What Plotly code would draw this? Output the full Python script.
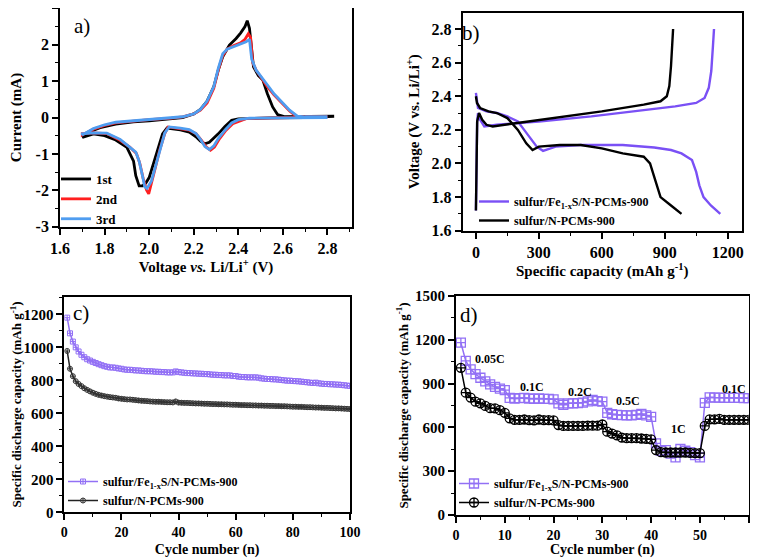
import plotly.graph_objects as go

W, H = 758, 558
OFF = 8  # default page body margin
FW, FH = W - 2 * OFF, H - OFF
FONT = "Liberation Serif"

# ---------------- Panel a: CV curves ----------------
cv1_v = [2.83, 2.70, 2.55, 2.45, 2.40, 2.37, 2.34, 2.31, 2.29, 2.27, 2.25, 2.23, 2.21, 2.18, 2.14, 2.10, 2.08,
         2.06, 2.04, 2.02, 2.00, 1.985, 1.97, 1.955, 1.94, 1.93, 1.90, 1.85, 1.80, 1.75, 1.70,
         1.70, 1.73, 1.78, 1.85, 1.93, 2.00, 2.08, 2.15, 2.20, 2.23, 2.26, 2.29, 2.31, 2.33, 2.36, 2.39,
         2.41, 2.43, 2.44, 2.45, 2.468, 2.49, 2.51, 2.53, 2.554, 2.576, 2.61, 2.65, 2.75, 2.82, 2.83]
cv1_i = [0.03, 0.0, -0.01, -0.02, -0.04, -0.08, -0.25, -0.45, -0.58, -0.68, -0.72, -0.65, -0.53, -0.40, -0.34, -0.30, -0.29,
         -0.45, -0.85, -1.30, -1.65, -1.80, -1.88, -1.88, -1.60, -1.20, -0.82, -0.62, -0.50, -0.45, -0.55,
         -0.55, -0.40, -0.28, -0.18, -0.12, -0.09, -0.05, 0.0, 0.10, 0.22, 0.45, 0.85, 1.30, 1.67, 1.99, 2.17,
         2.32, 2.50, 2.66, 2.45, 1.39, 1.15, 1.03, 0.66, 0.29, 0.08, 0.02, 0.02, 0.02, 0.02, 0.04]

cv2_v = [2.80, 2.60, 2.45, 2.435, 2.375, 2.345, 2.316, 2.293, 2.275, 2.256, 2.234, 2.21, 2.18, 2.137, 2.085, 2.07,
         2.047, 2.025, 2.005, 1.998, 1.988, 1.973, 1.958, 1.943, 1.913, 1.868, 1.81, 1.75, 1.70,
         1.70, 1.75, 1.80, 1.85, 1.93, 2.00, 2.10, 2.15, 2.20, 2.23, 2.26, 2.29, 2.31, 2.33, 2.35, 2.38, 2.41,
         2.43, 2.445, 2.455, 2.465, 2.48, 2.50, 2.53, 2.56, 2.60, 2.63, 2.66, 2.70, 2.80]
cv2_i = [0.02, 0.0, -0.02, -0.03, -0.17, -0.35, -0.58, -0.81, -0.90, -0.81, -0.62, -0.44, -0.35, -0.30, -0.26, -0.44,
         -0.90, -1.45, -1.90, -2.10, -1.99, -1.67, -1.26, -0.99, -0.81, -0.62, -0.44, -0.42, -0.44,
         -0.48, -0.32, -0.22, -0.15, -0.10, -0.06, -0.02, 0.02, 0.10, 0.20, 0.40, 0.80, 1.30, 1.70, 1.88, 1.98, 2.05,
         2.15, 2.30, 2.20, 1.50, 1.30, 1.12, 0.85, 0.62, 0.38, 0.18, 0.03, 0.02, 0.02]

cv3_v = [2.80, 2.60, 2.45, 2.40, 2.37, 2.34, 2.31, 2.29, 2.27, 2.25, 2.23, 2.21, 2.18, 2.14, 2.09, 2.07, 2.05,
         2.03, 2.01, 1.99, 1.98, 1.97, 1.955, 1.94, 1.91, 1.87, 1.81, 1.75, 1.70,
         1.70, 1.75, 1.80, 1.85, 1.93, 2.00, 2.10, 2.15, 2.20, 2.23, 2.26, 2.29, 2.31, 2.33, 2.35, 2.38, 2.41,
         2.435, 2.45, 2.46, 2.48, 2.50, 2.53, 2.56, 2.60, 2.63, 2.665, 2.70, 2.80]
cv3_i = [0.0, 0.0, -0.02, -0.06, -0.15, -0.35, -0.58, -0.78, -0.88, -0.80, -0.60, -0.44, -0.33, -0.29, -0.26, -0.42, -0.85,
         -1.35, -1.75, -1.95, -1.90, -1.60, -1.20, -0.95, -0.80, -0.60, -0.43, -0.42, -0.45,
         -0.48, -0.30, -0.20, -0.13, -0.09, -0.05, -0.01, 0.02, 0.10, 0.22, 0.45, 0.85, 1.35, 1.75, 1.88, 1.95, 2.00,
         2.08, 2.15, 1.60, 1.30, 1.15, 0.90, 0.65, 0.38, 0.20, 0.04, 0.02, 0.02]

a_xticks = [1.6, 1.8, 2.0, 2.2, 2.4, 2.6, 2.8]
a_xlabels = ["1.6", "1.8", "2.0", "2.2", "2.4", "2.6", "2.8"]
a_yticks = [-3, -2, -1, 0, 1, 2, 3]
a_ylabels = ["-3", "-2", "-1", "0", "1", "2", "3"]

# ---------------- Panel b: charge / discharge ----------------
fe_dis_cap = [0, 10, 50, 100, 150, 200, 230, 260, 290, 320, 380, 500, 700, 850, 930, 980, 1030, 1050, 1065, 1085, 1120, 1165]
fe_dis_v = [2.42, 2.33, 2.31, 2.30, 2.28, 2.25, 2.20, 2.15, 2.10, 2.075, 2.10, 2.11, 2.11, 2.095, 2.08, 2.06, 2.02, 1.95, 1.87, 1.80, 1.75, 1.70]
fe_chg_cap = [0, 3, 6, 10, 20, 40, 100, 300, 550, 750, 950, 1050, 1090, 1110, 1122, 1130, 1135]
fe_chg_v = [1.72, 2.10, 2.25, 2.30, 2.26, 2.22, 2.23, 2.25, 2.28, 2.31, 2.34, 2.36, 2.39, 2.45, 2.55, 2.70, 2.80]

n_dis_cap = [0, 5, 20, 60, 100, 150, 200, 240, 270, 300, 400, 500, 600, 700, 800, 830, 850, 865, 880, 930, 980]
n_dis_v = [2.40, 2.36, 2.33, 2.31, 2.30, 2.27, 2.20, 2.12, 2.08, 2.10, 2.11, 2.11, 2.09, 2.06, 2.04, 2.00, 1.92, 1.86, 1.80, 1.75, 1.70]
n_chg_cap = [0, 3, 6, 15, 30, 50, 80, 250, 430, 600, 800, 880, 910, 922, 930, 935, 940]
n_chg_v = [1.72, 2.10, 2.25, 2.30, 2.26, 2.23, 2.22, 2.25, 2.28, 2.31, 2.35, 2.37, 2.40, 2.46, 2.58, 2.70, 2.80]

b_xticks = [0, 300, 600, 900, 1200]
b_xlabels = ["0", "300", "600", "900", "1200"]
b_yticks = [1.6, 1.8, 2.0, 2.2, 2.4, 2.6, 2.8]
b_ylabels = ["1.6", "1.8", "2.0", "2.2", "2.4", "2.6", "2.8"]

# ---------------- Panel c: cycling ----------------
cycles_c = list(range(1, 101))
fe_cyc = [1180, 1085, 1035, 1000, 975, 955, 940, 928, 920, 912,
          905, 898, 892, 886, 882, 878, 878, 876, 872, 870,
          866, 864, 864, 862, 860, 860, 858, 856, 855, 855,
          854, 852, 852, 850, 850, 848, 848, 848, 854, 850,
          848, 846, 844, 844, 842, 842, 840, 840, 838, 838,
          836, 834, 834, 832, 832, 830, 830, 830, 826, 826,
          822, 820, 820, 818, 818, 818, 818, 816, 812, 810,
          808, 808, 806, 806, 804, 802, 800, 798, 798, 796,
          795, 794, 792, 790, 788, 786, 784, 786, 782, 780,
          778, 778, 776, 776, 774, 774, 772, 770, 768, 766]
n_cyc = [978, 870, 825, 795, 778, 765, 752, 742, 733, 725,
         718, 712, 708, 704, 701, 698, 696, 694, 690, 688,
         686, 684, 684, 682, 680, 678, 676, 675, 674, 672,
         671, 670, 670, 669, 668, 667, 667, 666, 672, 665,
         664, 663, 663, 662, 661, 660, 660, 659, 658, 658,
         657, 656, 656, 655, 655, 654, 654, 653, 652, 652,
         651, 650, 650, 649, 649, 648, 648, 647, 647, 646,
         646, 645, 645, 644, 644, 643, 643, 642, 641, 640,
         640, 639, 639, 638, 637, 637, 636, 635, 635, 634,
         633, 633, 632, 631, 630, 630, 629, 628, 627, 626]
c_xticks = [0, 20, 40, 60, 80, 100]
c_xlabels = ["0", "20", "40", "60", "80", "100"]
c_yticks = [0, 200, 400, 600, 800, 1000, 1200]
c_ylabels = ["0", "200", "400", "600", "800", "1000", "1200"]

# ---------------- Panel d: rate ----------------
cycles_d = list(range(1, 61))
fe_rate = [1180, 1055, 998, 965, 940, 915, 895, 878, 865, 855,
           802, 798, 800, 802, 798, 796, 798, 796, 796, 792,
           765, 755, 765, 765, 766, 770, 778, 788, 780, 776,
           700, 690, 686, 684, 682, 682, 686, 692, 682, 672,
           490, 440, 445, 420, 395, 452, 440, 430, 410, 395,
           768, 806, 804, 804, 802, 802, 802, 802, 800, 800]
n_rate = [1008, 838, 804, 776, 765, 747, 732, 730, 718, 700,
          662, 652, 652, 654, 650, 648, 654, 650, 650, 648,
          616, 610, 610, 610, 610, 610, 612, 612, 612, 620,
          571, 558, 546, 530, 526, 526, 526, 524, 522, 518,
          445, 430, 428, 428, 428, 428, 428, 426, 424, 424,
          610, 655, 655, 658, 652, 652, 652, 652, 652, 652]
d_xticks = [0, 10, 20, 30, 40, 50, 60]
d_xlabels = ["0", "10", "20", "30", "40", "50", "60"]
d_yticks = [0, 300, 600, 900, 1200, 1500]
d_ylabels = ["0", "300", "600", "900", "1200", "1500"]
rate_labels = ["0.05C", "0.1C", "0.2C", "0.5C", "1C", "0.1C"]
rate_label_x = [7.0, 15.5, 25.4, 35.3, 45.6, 56.9]
rate_label_y = [1066, 879, 840, 780, 587, 861]

PURPLE = "#7a50f5"
PURPLE_L = "#9270f5"
RED = "#ff1f1f"
BLUE = "#4f9df0"

fig = go.Figure()
# panel a
fig.add_trace(go.Scatter(x=cv1_v, y=cv1_i, mode="lines", name="1st", line=dict(color="black", width=2.8),
                         xaxis="x", yaxis="y", legend="legend"))
fig.add_trace(go.Scatter(x=cv2_v, y=cv2_i, mode="lines", name="2nd", line=dict(color=RED, width=2.8),
                         xaxis="x", yaxis="y", legend="legend"))
fig.add_trace(go.Scatter(x=cv3_v, y=cv3_i, mode="lines", name="3rd", line=dict(color=BLUE, width=2.8),
                         xaxis="x", yaxis="y", legend="legend"))
# panel b
fig.add_trace(go.Scatter(x=fe_dis_cap, y=fe_dis_v, mode="lines", name="sulfur/Fe<sub>1-x</sub>S/N-PCMs-900",
                         line=dict(color=PURPLE, width=2.4), xaxis="x2", yaxis="y2", legend="legend2"))
fig.add_trace(go.Scatter(x=fe_chg_cap, y=fe_chg_v, mode="lines", showlegend=False,
                         line=dict(color=PURPLE, width=2.4), xaxis="x2", yaxis="y2", legend="legend2"))
fig.add_trace(go.Scatter(x=n_dis_cap, y=n_dis_v, mode="lines", name="sulfur/N-PCMs-900",
                         line=dict(color="black", width=2.4), xaxis="x2", yaxis="y2", legend="legend2"))
fig.add_trace(go.Scatter(x=n_chg_cap, y=n_chg_v, mode="lines", showlegend=False,
                         line=dict(color="black", width=2.4), xaxis="x2", yaxis="y2", legend="legend2"))
# panel c
fig.add_trace(go.Scatter(x=cycles_c, y=fe_cyc, mode="lines+markers", name="sulfur/Fe<sub>1-x</sub>S/N-PCMs-900",
                         line=dict(color=PURPLE_L, width=1.5),
                         marker=dict(symbol="square-cross-open", size=5, color=PURPLE_L, line=dict(width=1)),
                         xaxis="x3", yaxis="y3", legend="legend3"))
fig.add_trace(go.Scatter(x=cycles_c, y=n_cyc, mode="lines+markers", name="sulfur/N-PCMs-900",
                         line=dict(color="#222222", width=1.5),
                         marker=dict(symbol="circle-cross-open", size=5, color="#333333", line=dict(width=1)),
                         xaxis="x3", yaxis="y3", legend="legend3"))
# panel d
fig.add_trace(go.Scatter(x=cycles_d, y=fe_rate, mode="lines+markers", name="sulfur/Fe<sub>1-x</sub>S/N-PCMs-900",
                         line=dict(color=PURPLE_L, width=1.5),
                         marker=dict(symbol="square-cross-open", size=9, color=PURPLE_L, line=dict(width=1.3)),
                         xaxis="x4", yaxis="y4", legend="legend4"))
fig.add_trace(go.Scatter(x=cycles_d, y=n_rate, mode="lines+markers", name="sulfur/N-PCMs-900",
                         line=dict(color="black", width=1.5),
                         marker=dict(symbol="circle-cross-open", size=9, color="black", line=dict(width=1.3)),
                         xaxis="x4", yaxis="y4", legend="legend4"))


def bold(labels):
    return ["<b>%s</b>" % s for s in labels]


def ax(domain, rng, tickvals, ticklabels, minor_dtick, title, anchor, tsize=15, fsize=15, standoff=6):
    return dict(domain=domain, range=rng, tickmode="array", tickvals=tickvals, ticktext=bold(ticklabels),
                anchor=anchor,
                showline=True, linecolor="black", linewidth=1.8, mirror=True,
                ticks="outside", ticklen=6, tickwidth=1.5, tickcolor="black",
                minor=dict(tickmode="linear", tick0=0, dtick=minor_dtick, ticks="outside", ticklen=3,
                           tickwidth=1.2, tickcolor="black"),
                showgrid=False, zeroline=False, automargin=False,
                tickfont=dict(family=FONT, size=tsize, color="black", weight=700),
                title=dict(text="<b>%s</b>" % title, font=dict(family=FONT, size=fsize, color="black"),
                           standoff=standoff))


def px(x0, x1):
    return [(x0 - OFF) / FW, (x1 - OFF) / FW]


def py(top, bottom):
    return [1 - (bottom - OFF) / FH, 1 - (top - OFF) / FH]


def lx(x):
    return (x - OFF) / FW


def ly(y):
    return 1 - (y - OFF) / FH


LEG = dict(xanchor="left", yanchor="top", bgcolor="rgba(0,0,0,0)", borderwidth=0)

layout = dict(
    width=FW, height=FH, margin=dict(l=0, r=0, t=0, b=0, autoexpand=False),
    paper_bgcolor="white", plot_bgcolor="white",
    font=dict(family=FONT, color="black"),
    xaxis=ax(px(60, 352), [1.6, 2.91], a_xticks, a_xlabels, 0.1, "Voltage <i>vs.</i> Li/Li<sup>+</sup> (V)", "y",
             tsize=16),
    yaxis=ax(py(8.3, 226.7), [-3, 3], a_yticks, a_ylabels, 0.5, "Current (mA)", "x", tsize=16, standoff=10),
    xaxis2=ax(px(462.7, 741.7), [-63, 1267], b_xticks, b_xlabels, 150, "Specific capacity (mAh g<sup>-1</sup>)",
              "y2", tsize=16),
    yaxis2=ax(py(12.7, 230.7), [1.6, 2.897], b_yticks, b_ylabels, 0.1, "Voltage (V vs. Li/Li<sup>+</sup>)", "x2",
              tsize=16, standoff=8),
    xaxis3=ax(px(64.3, 350), [0, 100], c_xticks, c_xlabels, 10, "Cycle number (n)", "y3", tsize=14, fsize=14,
              standoff=7),
    yaxis3=ax(py(296.7, 512.3), [0, 1307], c_yticks, c_ylabels, 100,
              "Specific discharge capacity (mAh g<sup>-1</sup>)", "x3", tsize=15, fsize=13, standoff=4),
    xaxis4=ax(px(456, 748.7), [0, 60], d_xticks, d_xlabels, 5, "Cycle number (n)", "y4", tsize=14, fsize=14,
              standoff=7),
    yaxis4=ax(py(296, 515), [0, 1500], d_yticks, d_ylabels, 150,
              "Specific discharge capacity (mAh g<sup>-1</sup>)", "x4", tsize=15, fsize=13, standoff=4),
    legend=dict(x=lx(56), y=ly(164), font=dict(family=FONT, size=13, color="black", weight="bold"), **LEG),
    legend2=dict(x=lx(474), y=ly(187), font=dict(family=FONT, size=12, color="black", weight="bold"), **LEG),
    legend3=dict(x=lx(63), y=ly(467), font=dict(family=FONT, size=12, color="black", weight="bold"), **LEG),
    legend4=dict(x=lx(454), y=ly(469), font=dict(family=FONT, size=12, color="black", weight="bold"), **LEG),
)
fig.update_layout(**layout)

annos = [
    dict(text="a)", x=0.075, y=0.92, xref="x domain", yref="y domain"),
    dict(text="b)", x=0.03, y=0.905, xref="x2 domain", yref="y2 domain"),
    dict(text="c)", x=0.058, y=0.924, xref="x3 domain", yref="y3 domain"),
    dict(text="d)", x=0.044, y=0.913, xref="x4 domain", yref="y4 domain"),
]
for a in annos:
    fig.add_annotation(showarrow=False, xanchor="center", yanchor="middle",
                       font=dict(family=FONT, size=21, color="black"), **a)
for t, xx, yy in zip(rate_labels, rate_label_x, rate_label_y):
    fig.add_annotation(text="<b>%s</b>" % t, x=xx, y=yy, xref="x4", yref="y4", showarrow=False,
                       xanchor="center", yanchor="middle",
                       font=dict(family=FONT, size=12, color="black"))

fig.write_html("out.html")
